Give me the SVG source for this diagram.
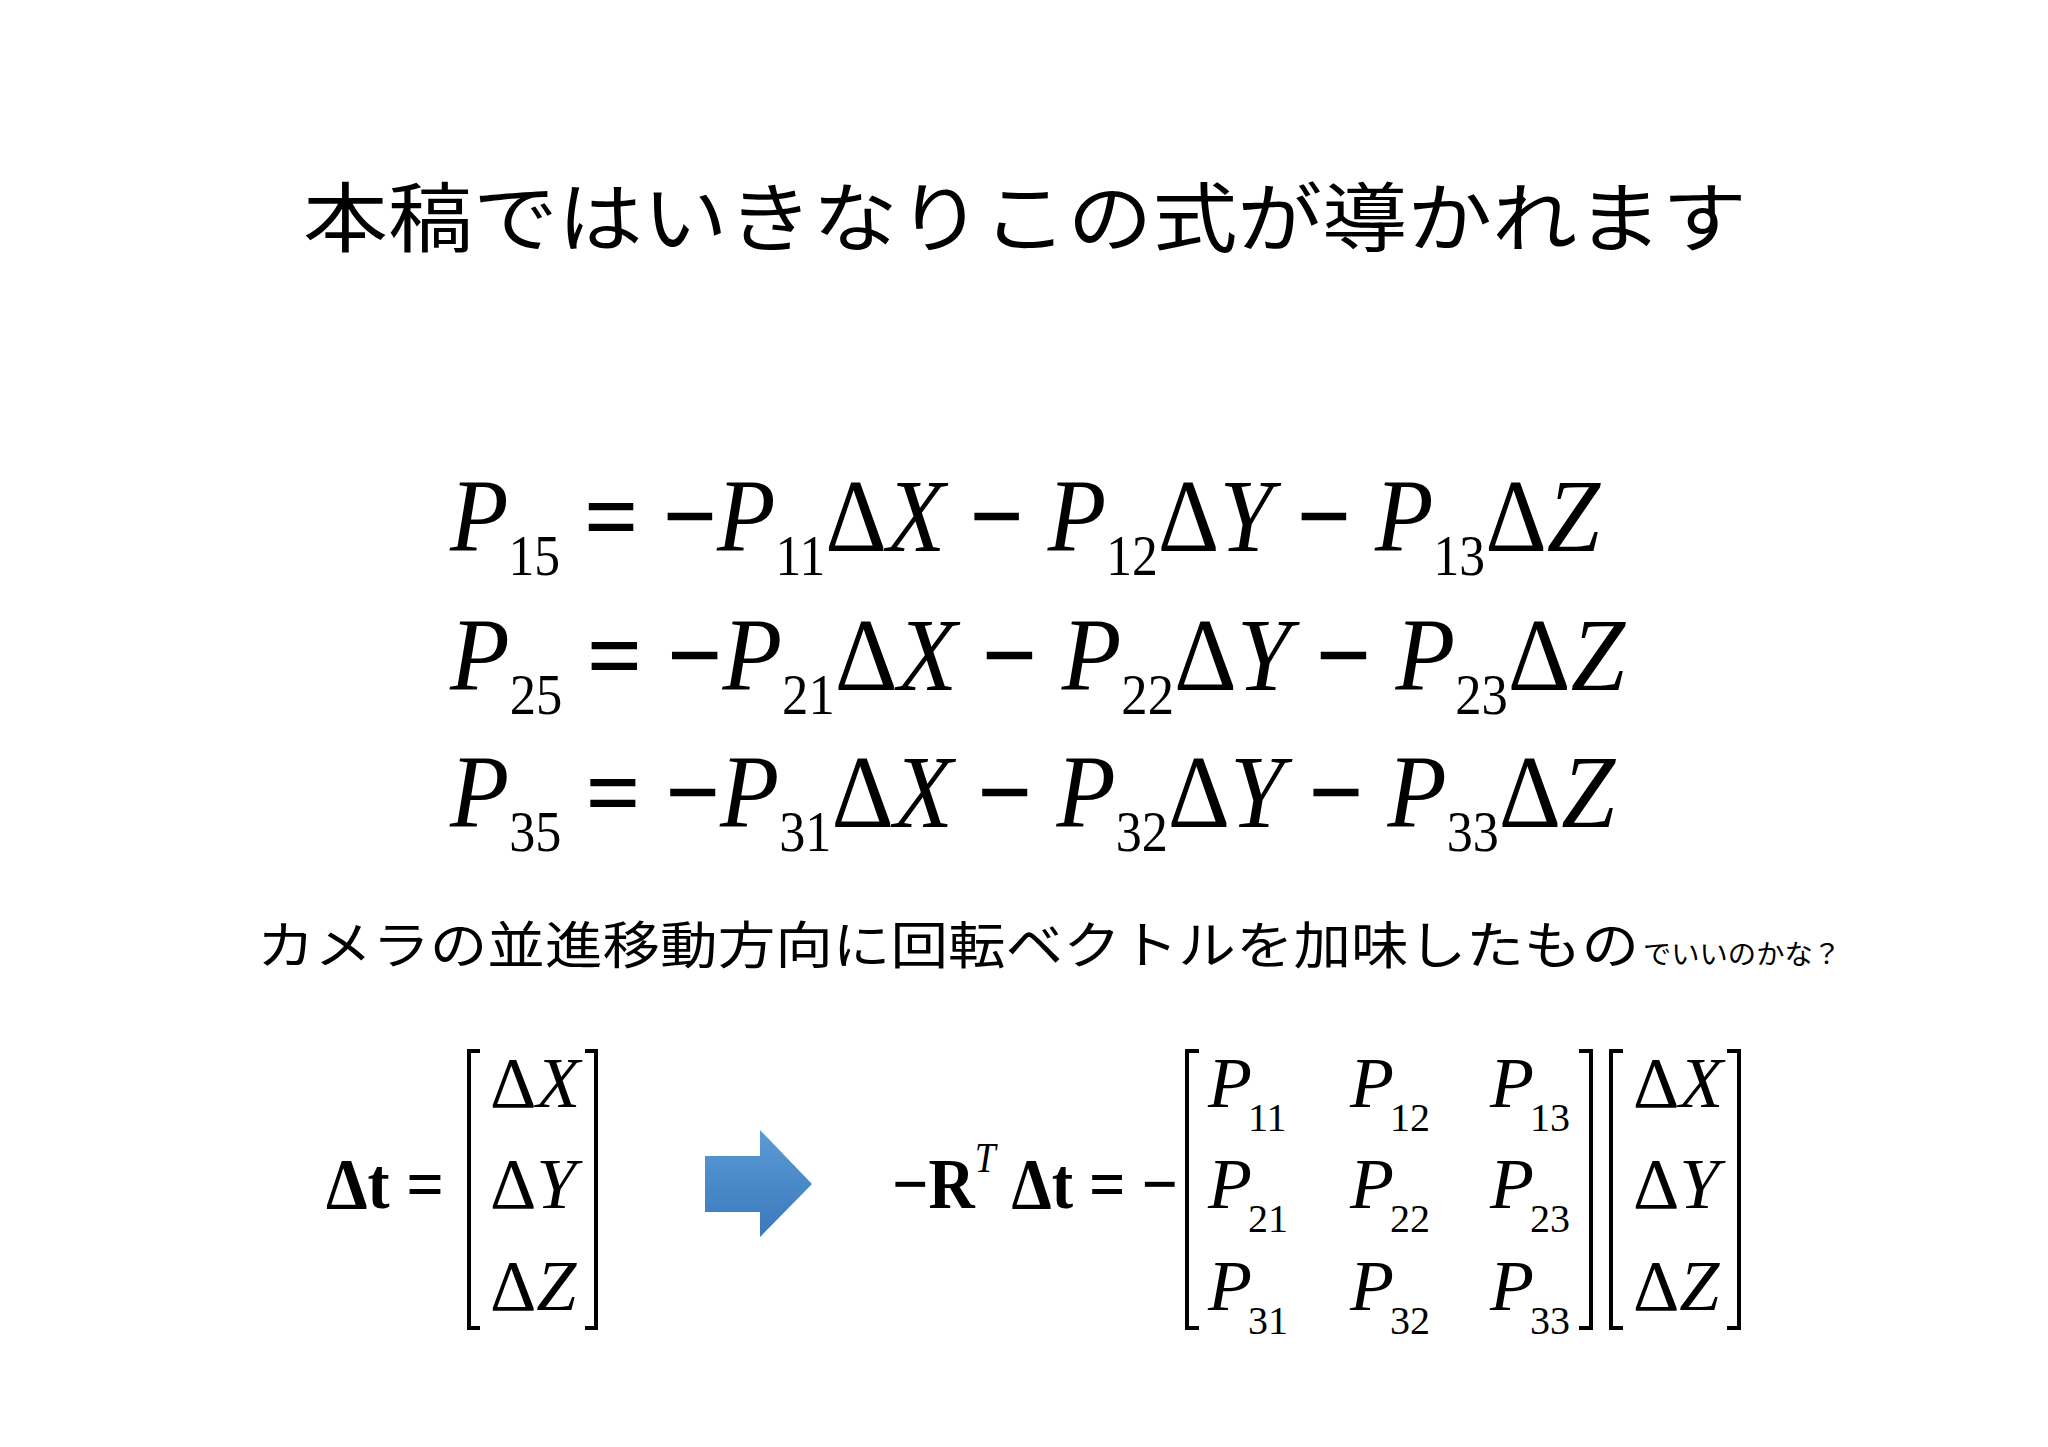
<svg xmlns="http://www.w3.org/2000/svg" width="2048" height="1447" viewBox="0 0 2048 1447">
<defs>
<style>
.t{font-family:"Liberation Sans","Noto Sans CJK JP",sans-serif;fill:#000}
.m{font-family:"Liberation Serif",serif;fill:#000}
.i{font-style:italic}
.b{font-weight:bold}
.eq{font-size:104px}
.sub{font-size:56px;font-style:normal}
.mx{font-size:72px}
.ms{font-size:40px;font-style:normal}
.br{fill:none;stroke:#000;stroke-width:4}
</style>
<linearGradient id="g" x1="0" y1="0" x2="0" y2="1"><stop offset="0" stop-color="#5b9bd5"/><stop offset="1" stop-color="#3a78bd"/></linearGradient>
</defs>
<rect width="2048" height="1447" fill="#fff"/>
<g id="title"><text class="t" x="303" y="246" font-size="76" textLength="1444" lengthAdjust="spacingAndGlyphs">本稿ではいきなりこの式が導かれます</text></g>
<g id="equations" class="m eq">
<text x="450" y="551" textLength="1150" lengthAdjust="spacingAndGlyphs"><tspan class="i">P</tspan><tspan class="sub" dy="24">15</tspan><tspan dy="-24" class="b"> = −</tspan><tspan class="i">P</tspan><tspan class="sub" dy="24">11</tspan><tspan dy="-24">Δ</tspan><tspan class="i">X</tspan><tspan class="b"> − </tspan><tspan class="i">P</tspan><tspan class="sub" dy="24">12</tspan><tspan dy="-24">Δ</tspan><tspan class="i">Y</tspan><tspan class="b"> − </tspan><tspan class="i">P</tspan><tspan class="sub" dy="24">13</tspan><tspan dy="-24">Δ</tspan><tspan class="i">Z</tspan></text>
<text x="450" y="690" textLength="1175" lengthAdjust="spacingAndGlyphs"><tspan class="i">P</tspan><tspan class="sub" dy="24">25</tspan><tspan dy="-24" class="b"> = −</tspan><tspan class="i">P</tspan><tspan class="sub" dy="24">21</tspan><tspan dy="-24">Δ</tspan><tspan class="i">X</tspan><tspan class="b"> − </tspan><tspan class="i">P</tspan><tspan class="sub" dy="24">22</tspan><tspan dy="-24">Δ</tspan><tspan class="i">Y</tspan><tspan class="b"> − </tspan><tspan class="i">P</tspan><tspan class="sub" dy="24">23</tspan><tspan dy="-24">Δ</tspan><tspan class="i">Z</tspan></text>
<text x="450" y="827" textLength="1165" lengthAdjust="spacingAndGlyphs"><tspan class="i">P</tspan><tspan class="sub" dy="24">35</tspan><tspan dy="-24" class="b"> = −</tspan><tspan class="i">P</tspan><tspan class="sub" dy="24">31</tspan><tspan dy="-24">Δ</tspan><tspan class="i">X</tspan><tspan class="b"> − </tspan><tspan class="i">P</tspan><tspan class="sub" dy="24">32</tspan><tspan dy="-24">Δ</tspan><tspan class="i">Y</tspan><tspan class="b"> − </tspan><tspan class="i">P</tspan><tspan class="sub" dy="24">33</tspan><tspan dy="-24">Δ</tspan><tspan class="i">Z</tspan></text>
</g>
<g id="caption"><text class="t" x="257" y="964" font-size="51" textLength="1382" lengthAdjust="spacingAndGlyphs">カメラの並進移動方向に回転ベクトルを加味したもの</text><text class="t" x="1643" y="964" font-size="27" textLength="198" lengthAdjust="spacingAndGlyphs">でいいのかな？</text></g>
<g id="lhs" class="m mx">
<text x="326" y="1208" class="b" textLength="118" lengthAdjust="spacingAndGlyphs">Δt =</text>
<path class="br" d="M480,1051 H469 V1328 H480 M585,1051 H596 V1328 H585"/>
<text x="490" y="1107">Δ<tspan class="i">X</tspan></text>
<text x="490" y="1208">Δ<tspan class="i">Y</tspan></text>
<text x="490" y="1310">Δ<tspan class="i">Z</tspan></text>
</g>
<g id="arrow"><path d="M705,1156 H760 V1130 L812,1184 L760,1237 V1212 H705 Z" fill="url(#g)"/></g>
<g id="rhs" class="m mx">
<text x="892" y="1208" class="b" textLength="286" lengthAdjust="spacingAndGlyphs">−R<tspan class="i" font-weight="normal" font-size="42" dy="-36">T</tspan><tspan dy="36"> Δt = −</tspan></text>
<path class="br" d="M1199,1051 H1187 V1328 H1199 M1579,1051 H1591 V1328 H1579 M1623,1051 H1611 V1328 H1623 M1727,1051 H1739 V1328 H1727"/>
<text x="1208" y="1107"><tspan class="i">P</tspan><tspan class="ms" dy="24" dx="-4">11</tspan></text>
<text x="1350" y="1107"><tspan class="i">P</tspan><tspan class="ms" dy="24" dx="-4">12</tspan></text>
<text x="1490" y="1107"><tspan class="i">P</tspan><tspan class="ms" dy="24" dx="-4">13</tspan></text>
<text x="1208" y="1208"><tspan class="i">P</tspan><tspan class="ms" dy="24" dx="-4">21</tspan></text>
<text x="1350" y="1208"><tspan class="i">P</tspan><tspan class="ms" dy="24" dx="-4">22</tspan></text>
<text x="1490" y="1208"><tspan class="i">P</tspan><tspan class="ms" dy="24" dx="-4">23</tspan></text>
<text x="1208" y="1310"><tspan class="i">P</tspan><tspan class="ms" dy="24" dx="-4">31</tspan></text>
<text x="1350" y="1310"><tspan class="i">P</tspan><tspan class="ms" dy="24" dx="-4">32</tspan></text>
<text x="1490" y="1310"><tspan class="i">P</tspan><tspan class="ms" dy="24" dx="-4">33</tspan></text>
<text x="1633" y="1107">Δ<tspan class="i">X</tspan></text>
<text x="1633" y="1208">Δ<tspan class="i">Y</tspan></text>
<text x="1633" y="1310">Δ<tspan class="i">Z</tspan></text>
</g>
</svg>
